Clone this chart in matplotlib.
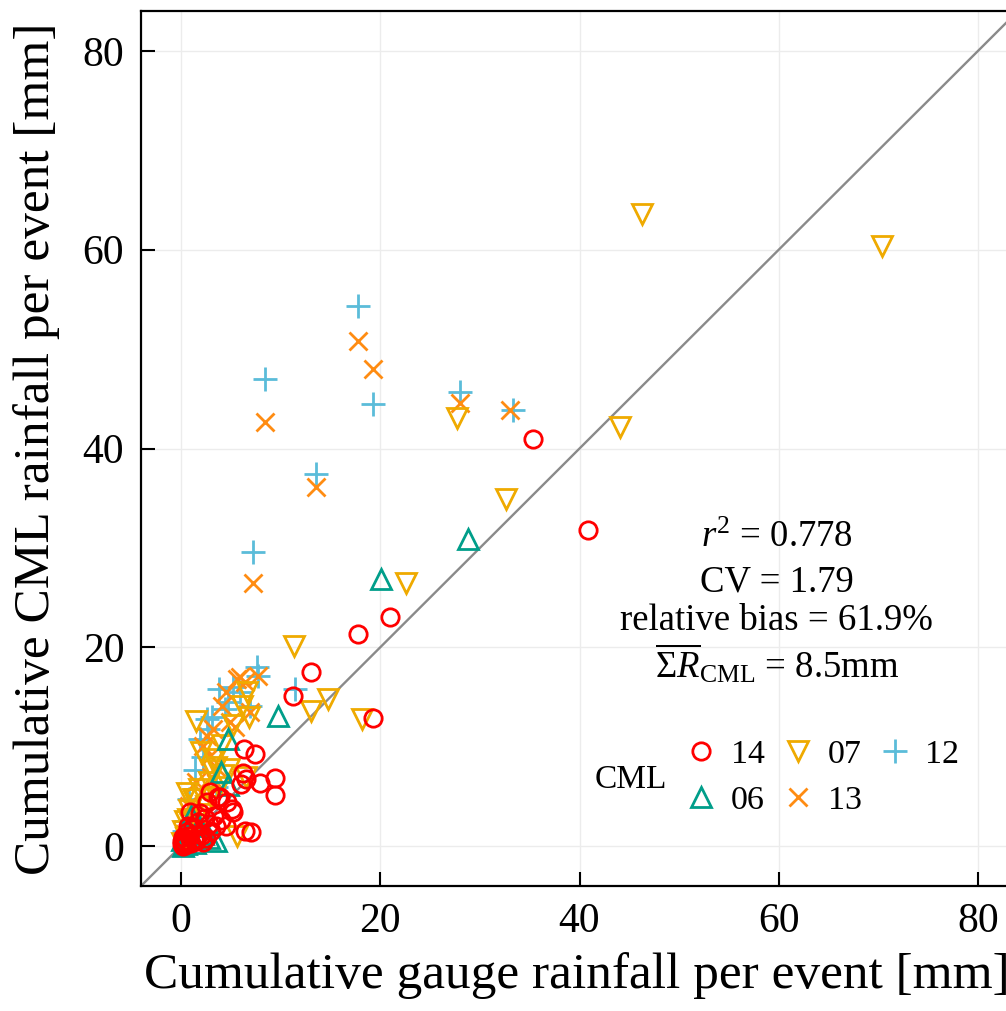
import matplotlib
matplotlib.use("Agg")
import matplotlib.pyplot as plt
from matplotlib.lines import Line2D

plt.rcParams["font.family"] = ["Liberation Serif", "DejaVu Serif"]
plt.rcParams["mathtext.fontset"] = "custom"
plt.rcParams["mathtext.rm"] = "Liberation Serif"
plt.rcParams["mathtext.it"] = "Liberation Serif:italic"
plt.rcParams["mathtext.bf"] = "Liberation Serif:bold"

# DATA (gauge, CML) per link

x14 = [35.3, 40.9, 21.0, 17.8, 13.1, 11.3, 19.3, 7.4, 6.3, 9.4, 9.4, 7.9, 6.2, 6.5, 6.0,
       7.0, 6.4, 2.9, 3.7, 2.6, 5.1, 0.9, 4.0, 3.5, 3.0, 2.4, 1.8, 1.2, 0.8, 0.5, 0.3,
       0.2, 0.1, 1.5, 2.1, 2.8, 3.3, 1.0, 0.6, 0.4, 2.5, 1.7, 4.5, 0.2, 0.1, 3.9, 4.6, 5.2,
       1.3, 2.2, 0.7, 1.9]
y14 = [41.0, 31.8, 23.1, 21.3, 17.5, 15.1, 12.9, 9.3, 9.8, 6.9, 5.2, 6.4, 7.4, 6.8, 6.3,
       1.4, 1.5, 5.5, 5.0, 4.4, 3.7, 3.4, 2.6, 2.0, 1.5, 2.8, 1.2, 1.9, 1.0, 0.6, 0.4,
       0.9, 0.2, 0.5, 1.1, 2.2, 3.0, 0.3, 1.4, 0.1, 0.8, 2.4, 2.0, 0.0, 0.5, 5.0, 4.4, 3.4,
       0.7, 0.4, 2.0, 3.3]

x06 = [28.8, 20.1, 9.7, 4.7, 4.7, 2.2, 1.0, 0.5, 0.2, 3.5, 1.8, 0.8, 2.8, 0.1, 1.4, 4.0]
y06 = [30.9, 26.9, 13.1, 10.8, 6.2, 1.2, 3.0, 0.2, 0.0, 0.5, 2.0, 1.5, 0.8, 0.6, 0.3, 7.5]

x07 = [46.3, 70.4, 44.1, 27.7, 32.6, 22.6, 11.4, 14.8, 13.1, 18.2, 1.5, 6.6, 6.1, 3.2,
       0.6, 5.6, 2.0, 3.5, 4.2, 2.8, 1.2, 0.8, 0.4, 0.2, 1.8, 2.5, 3.8, 4.8, 0.1, 1.0,
       2.2, 3.0, 0.5, 6.8, 5.2, 6.5, 4.1, 3.1, 1.4, 0.7]
y07 = [63.6, 60.4, 42.2, 43.1, 34.9, 26.5, 20.1, 14.8, 13.6, 12.8, 12.6, 15.5, 14.1, 8.8,
       5.4, 1.0, 9.5, 8.0, 7.2, 6.5, 4.8, 3.6, 2.5, 1.5, 5.8, 4.0, 6.0, 7.8, 0.3, 2.2,
       3.2, 5.0, 0.8, 13.0, 12.2, 7.0, 10.2, 7.7, 4.7, 2.7]

x13 = [17.8, 19.3, 8.4, 28.0, 33.0, 13.6, 7.2, 7.7, 5.9, 4.1, 2.6, 4.9, 2.9, 2.2, 6.4,
       3.5, 1.5, 0.8, 2.0, 3.0, 1.1, 0.4, 6.9, 4.5, 5.4, 3.2, 5.6]
y13 = [50.8, 48.0, 42.7, 44.6, 43.9, 36.1, 26.5, 17.1, 17.0, 14.1, 11.1, 12.5, 9.1, 10.1,
       16.5, 8.0, 6.5, 4.0, 5.5, 7.0, 2.5, 1.2, 13.5, 15.5, 12.0, 11.8, 16.8]

x12 = [17.8, 8.4, 19.3, 28.0, 33.3, 13.6, 7.2, 7.7, 11.5, 3.8, 5.9, 2.6, 3.1, 2.7, 4.4,
       6.9, 1.9, 1.4, 0.8, 2.2, 0.3, 1.2, 5.2, 3.5, 0.5, 4.7, 7.6]
y12 = [54.3, 47.0, 44.5, 45.7, 43.9, 37.4, 29.6, 17.1, 15.8, 15.8, 15.5, 12.8, 13.0, 11.8,
       13.8, 14.1, 10.8, 7.7, 4.7, 9.0, 1.5, 3.2, 16.0, 6.0, 2.5, 14.5, 18.0]

ticks = [0, 20, 40, 60, 80]
stats = [r"$r^2$ = 0.778", "CV = 1.79", "relative bias = 61.9%",
         r"$\overline{\Sigma R}_{\mathrm{CML}}$ = 8.5mm"]

# STYLES

c14, c06, c07, c13, c12 = "#ff0000", "#009e8a", "#efaa00", "#ff8c12", "#5bbcd9"
mew = 2.0

# PLOT

fig = plt.figure(figsize=(10.06, 10.11), dpi=100)
ax = fig.add_axes([141 / 1006, 125 / 1011, 877 / 1006, 875 / 1011])

ax.plot([-4, 84], [-4, 84], color="#8a8a8a", lw=1.7, zorder=1)

ax.plot(x12, y12, ls="none", marker="+", ms=17, mew=mew, color=c12, zorder=2)
ax.plot(x13, y13, ls="none", marker="x", ms=13, mew=mew, color=c13, zorder=3)
ax.plot(x07, y07, ls="none", marker="v", ms=15, mew=mew, mfc="none", mec=c07, zorder=4)
ax.plot(x06, y06, ls="none", marker="^", ms=15, mew=mew, mfc="none", mec=c06, zorder=5)
ax.plot(x14, y14, ls="none", marker="o", ms=12.5, mew=mew, mfc="none", mec=c14, zorder=6)

ax.set_xlim(-4, 84)
ax.set_ylim(-4, 84)
ax.set_xticks(ticks)
ax.set_yticks(ticks)
ax.grid(True, color="#ececec", lw=1.0, zorder=0)
ax.set_axisbelow(True)
ax.tick_params(direction="in", length=10, width=1.5, labelsize=30, pad=12)
for s in ["left", "bottom", "top"]:
    ax.spines[s].set_linewidth(1.6)
ax.spines["right"].set_visible(False)

ax.set_xlabel("Cumulative gauge rainfall per event [mm]", fontsize=37)
ax.set_ylabel("Cumulative CML rainfall per event [mm]", fontsize=37)
ax.xaxis.set_label_coords(0.497, -0.075)
ax.yaxis.set_label_coords(-0.092, 0.5)

# STATS TEXT

for txt, yy in zip(stats, [0.387, 0.337, 0.293, 0.238]):
    ax.text(0.725, yy, txt, transform=ax.transAxes, ha="center", va="baseline", fontsize=26.5)

# LEGEND

handles = [
    Line2D([], [], ls="none", marker="o", ms=12.5, mew=mew, mfc="none", mec=c14),
    Line2D([], [], ls="none", marker="^", ms=15, mew=mew, mfc="none", mec=c06),
    Line2D([], [], ls="none", marker="v", ms=15, mew=mew, mfc="none", mec=c07),
    Line2D([], [], ls="none", marker="x", ms=13, mew=mew, color=c13),
    Line2D([], [], ls="none", marker="+", ms=17, mew=mew, color=c12),
]
ax.legend(handles, ["14", "06", "07", "13", "12"], ncol=3, frameon=False, fontsize=24.5,
          loc="upper left", bbox_to_anchor=(0.622, 0.168), borderpad=0, borderaxespad=0,
          handlelength=0.85, handletextpad=0.45, columnspacing=0.55, labelspacing=0.45)
ax.text(0.558, 0.122, "CML", transform=ax.transAxes, ha="center", va="center", fontsize=24)

fig.savefig("out.png", dpi=100)
